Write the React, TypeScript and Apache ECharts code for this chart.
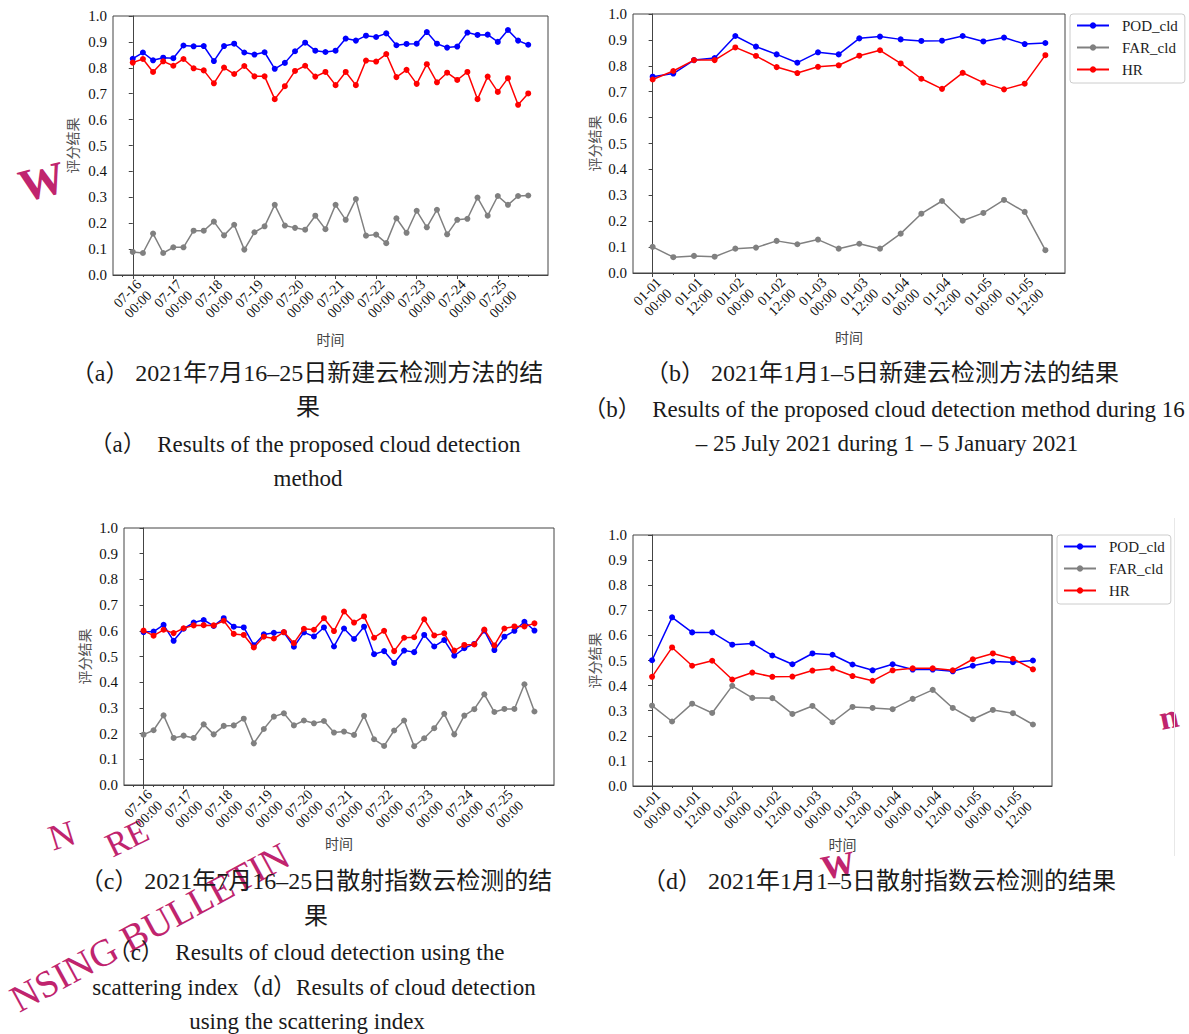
import React, { useEffect, useRef } from "react";
import * as echarts from "echarts";

// ---------------- data ----------------
const julyLabels = [
  "07-16\n00:00", "07-17\n00:00", "07-18\n00:00", "07-19\n00:00", "07-20\n00:00",
  "07-21\n00:00", "07-22\n00:00", "07-23\n00:00", "07-24\n00:00", "07-25\n00:00",
];
const janLabels = [
  "01-01\n00:00", "01-01\n12:00", "01-02\n00:00", "01-02\n12:00", "01-03\n00:00",
  "01-03\n12:00", "01-04\n00:00", "01-04\n12:00", "01-05\n00:00", "01-05\n12:00",
];
const seriesNames = ["POD_cld", "FAR_cld", "HR"];

// (a) proposed method, 16-25 July (6-hourly)
const podA = [0.835, 0.859, 0.829, 0.839, 0.837, 0.886, 0.883, 0.884, 0.826, 0.884, 0.893, 0.859, 0.851, 0.860, 0.796, 0.819, 0.864, 0.897, 0.866, 0.861, 0.866, 0.913, 0.905, 0.924, 0.919, 0.933, 0.887, 0.892, 0.893, 0.938, 0.893, 0.878, 0.882, 0.936, 0.927, 0.928, 0.900, 0.946, 0.905, 0.889];
const farA = [0.089, 0.085, 0.160, 0.085, 0.107, 0.107, 0.171, 0.171, 0.206, 0.153, 0.194, 0.098, 0.165, 0.188, 0.271, 0.191, 0.182, 0.175, 0.229, 0.177, 0.271, 0.213, 0.293, 0.152, 0.156, 0.123, 0.219, 0.163, 0.248, 0.184, 0.252, 0.157, 0.213, 0.217, 0.299, 0.229, 0.305, 0.271, 0.305, 0.307];
const hrA = [0.820, 0.834, 0.784, 0.825, 0.808, 0.834, 0.798, 0.790, 0.740, 0.801, 0.776, 0.807, 0.767, 0.767, 0.679, 0.729, 0.788, 0.808, 0.766, 0.784, 0.733, 0.784, 0.733, 0.828, 0.824, 0.853, 0.764, 0.792, 0.738, 0.814, 0.744, 0.781, 0.753, 0.784, 0.679, 0.766, 0.707, 0.760, 0.657, 0.701];

// (b) proposed method, 1-5 January
const podB = [0.758, 0.770, 0.822, 0.830, 0.915, 0.874, 0.844, 0.812, 0.852, 0.844, 0.906, 0.913, 0.902, 0.896, 0.897, 0.915, 0.894, 0.909, 0.884, 0.888];
const farB = [0.101, 0.061, 0.066, 0.063, 0.094, 0.098, 0.124, 0.111, 0.129, 0.094, 0.113, 0.094, 0.152, 0.229, 0.278, 0.202, 0.232, 0.282, 0.236, 0.088];
const hrB = [0.747, 0.780, 0.822, 0.822, 0.871, 0.838, 0.795, 0.772, 0.796, 0.802, 0.839, 0.860, 0.809, 0.750, 0.711, 0.773, 0.735, 0.709, 0.731, 0.841];

// (c) scattering index, 16-25 July
const podC = [0.595, 0.597, 0.623, 0.561, 0.608, 0.632, 0.642, 0.619, 0.649, 0.616, 0.613, 0.544, 0.586, 0.592, 0.594, 0.538, 0.594, 0.578, 0.613, 0.539, 0.609, 0.568, 0.616, 0.509, 0.521, 0.475, 0.523, 0.517, 0.584, 0.539, 0.564, 0.503, 0.532, 0.549, 0.601, 0.525, 0.577, 0.600, 0.635, 0.601];
const farC = [0.196, 0.213, 0.271, 0.183, 0.192, 0.183, 0.236, 0.197, 0.230, 0.232, 0.258, 0.162, 0.218, 0.266, 0.279, 0.232, 0.251, 0.240, 0.249, 0.204, 0.208, 0.195, 0.269, 0.178, 0.152, 0.212, 0.251, 0.151, 0.182, 0.221, 0.277, 0.197, 0.270, 0.295, 0.353, 0.284, 0.296, 0.296, 0.392, 0.286];
const hrC = [0.601, 0.581, 0.604, 0.591, 0.610, 0.621, 0.622, 0.621, 0.639, 0.588, 0.584, 0.535, 0.577, 0.570, 0.595, 0.552, 0.608, 0.604, 0.649, 0.599, 0.675, 0.632, 0.656, 0.573, 0.600, 0.521, 0.573, 0.575, 0.645, 0.582, 0.590, 0.523, 0.545, 0.547, 0.605, 0.543, 0.609, 0.617, 0.617, 0.629];

// (d) scattering index, 1-5 January
const podD = [0.501, 0.672, 0.612, 0.612, 0.563, 0.568, 0.520, 0.485, 0.528, 0.523, 0.484, 0.461, 0.485, 0.464, 0.464, 0.457, 0.479, 0.496, 0.493, 0.500];
const farD = [0.320, 0.257, 0.328, 0.291, 0.399, 0.351, 0.350, 0.287, 0.319, 0.254, 0.315, 0.311, 0.306, 0.347, 0.383, 0.311, 0.266, 0.303, 0.290, 0.245];
const hrD = [0.435, 0.552, 0.479, 0.499, 0.424, 0.452, 0.435, 0.436, 0.460, 0.468, 0.438, 0.419, 0.461, 0.469, 0.469, 0.461, 0.505, 0.528, 0.507, 0.465];

// ---------------- styling ----------------
const SERIF = "'Liberation Serif', 'Times New Roman', serif";
const CJK = "'Noto Sans CJK SC', sans-serif";
const MIX = "'Liberation Serif', 'Noto Sans CJK SC', serif";
const AXIS = "#444";
const COLORS = ["#0000ff", "#808080", "#ff0000"];
const WM = "#c0246e";

type Panel = {
  rect: { left: number; top: number; width: number; height: number };
  step: number;
  labels: string[];
  values: number[][];
  xGap: number;
  yGap: number;
};

const panels: Panel[] = [
  { rect: { left: 113, top: 16, width: 435, height: 259 }, step: 4, labels: julyLabels, values: [podA, farA, hrA], xGap: 57, yGap: 34 },
  { rect: { left: 633, top: 14, width: 432, height: 259 }, step: 2, labels: janLabels, values: [podB, farB, hrB], xGap: 57, yGap: 32 },
  { rect: { left: 124, top: 528, width: 430, height: 257 }, step: 4, labels: julyLabels, values: [podC, farC, hrC], xGap: 51, yGap: 33 },
  { rect: { left: 633, top: 535, width: 419, height: 251 }, step: 2, labels: janLabels, values: [podD, farD, hrD], xGap: 51, yGap: 32 },
];

function buildOption() {
  const grid: any[] = [];
  const xAxis: any[] = [];
  const yAxis: any[] = [];
  const series: any[] = [];

  panels.forEach((p, i) => {
    const n = p.values[0].length;
    const pad = 0.05 * (n - 1);
    const xMin = -pad;
    const xMax = n - 1 + pad;
    const major = p.labels.map((_, j) => j * p.step);
    // labels split over two axes so that no label is hidden as "overlapping"
    const majorEven = major.filter((_, j) => j % 2 === 0);
    const majorOdd = major.filter((_, j) => j % 2 === 1);
    const minor: number[] = [];
    for (let k = Math.ceil(xMin); k <= Math.floor(xMax); k++) {
      if (k % p.step !== 0) minor.push(k);
    }
    const labelStyle = (vals: number[]) => ({
      customValues: vals,
      formatter: (v: number) => p.labels[Math.round(v / p.step)] ?? "",
      rotate: 45,
      align: "center",
      verticalAlign: "middle",
      margin: 24,
      fontFamily: SERIF,
      fontSize: 14,
      lineHeight: 15,
      color: "#111",
      hideOverlap: false,
      showMinLabel: true,
      showMaxLabel: true,
    });
    const g = { ...p.rect, containLabel: false, outerBoundsMode: "none" };
    grid.push({ ...g, show: true, borderColor: AXIS, borderWidth: 1, backgroundColor: "transparent" });
    grid.push({ ...g, show: false });

    xAxis.push({
      gridIndex: 2 * i,
      type: "value",
      min: xMin,
      max: xMax,
      axisLine: { show: true, lineStyle: { color: AXIS, width: 1 } },
      axisTick: { show: true, length: 4, customValues: major, lineStyle: { color: AXIS } },
      axisLabel: labelStyle(majorEven),
      splitLine: { show: false },
      name: "时间",
      nameLocation: "middle",
      nameGap: p.xGap,
      nameTextStyle: { fontFamily: CJK, fontSize: 14, color: "#444" },
    });
    xAxis.push({
      gridIndex: 2 * i + 1,
      type: "value",
      min: xMin,
      max: xMax,
      axisLine: { show: false },
      axisTick: { show: true, length: 2, customValues: minor, lineStyle: { color: AXIS } },
      axisLabel: labelStyle(majorOdd),
      splitLine: { show: false },
    });

    yAxis.push({
      gridIndex: 2 * i,
      type: "value",
      min: 0,
      max: 1,
      interval: 0.1,
      axisLine: { show: true, lineStyle: { color: AXIS, width: 1 } },
      axisTick: { show: true, length: 4, lineStyle: { color: AXIS } },
      axisLabel: {
        formatter: (v: number) => v.toFixed(1),
        fontFamily: SERIF,
        fontSize: 15,
        color: "#111",
        margin: 6,
        showMinLabel: true,
        showMaxLabel: true,
      },
      splitLine: { show: false },
      name: "评分结果",
      nameLocation: "middle",
      nameRotate: 90,
      nameGap: p.yGap,
      nameTextStyle: { fontFamily: CJK, fontSize: 14, color: "#555" },
    });
    yAxis.push({ gridIndex: 2 * i + 1, type: "value", min: 0, max: 1, show: false });

    p.values.forEach((vals, s) => {
      series.push({
        type: "line",
        name: seriesNames[s],
        xAxisIndex: 2 * i,
        yAxisIndex: 2 * i,
        data: vals.map((v, k) => [k, v]),
        symbol: "circle",
        symbolSize: 6,
        showSymbol: true,
        lineStyle: { color: COLORS[s], width: 1.5 },
        itemStyle: { color: COLORS[s] },
        emphasis: { disabled: true },
        silent: true,
        z: 2 + s,
      });
    });
  });

  const legendBase = {
    orient: "vertical",
    itemWidth: 32,
    itemHeight: 8,
    itemGap: 7,
    borderColor: "#cccccc",
    borderWidth: 1,
    borderRadius: 3,
    backgroundColor: "#ffffff",
    selectedMode: false,
    data: seriesNames,
    textStyle: { fontFamily: SERIF, fontSize: 15, color: "#222", padding: [0, 0, 0, 8] },
  };

  const cap = (text: string, x: number, y: number, size: number) => ({
    type: "text",
    x,
    y,
    style: {
      text,
      fontFamily: MIX,
      fontSize: size,
      fill: "#1a1a1a",
      align: "center",
      verticalAlign: "middle",
    },
    silent: true,
  });

  const wm = (text: string, x: number, y: number, size: number, rot: number, extra: any = {}) => ({
    type: "text",
    x,
    y,
    rotation: rot,
    style: { text, fontFamily: SERIF, fontSize: size, fill: WM, ...extra },
    silent: true,
    z: -1,
  });

  const graphic = [
    // watermark fragments
    wm("W", 14, 165, 46, 0.25, { fontWeight: "bold" }),
    wm("N", 44, 822, 36, 0.3),
    wm("RE", 100, 832, 34, 0.45),
    wm("NSING BULLETIN", 4, 985, 38, 0.5),
    wm("W", 818, 852, 34, 0.2, { fontWeight: "bold" }),
    wm("n", 1156, 702, 34, 0.2, { fontWeight: "bold" }),
    { type: "line", shape: { x1: 1174.5, y1: 518, x2: 1174.5, y2: 856 }, style: { stroke: "#e8e8e8", lineWidth: 1 }, silent: true },
    // captions
    cap("（a） 2021年7月16–25日新建云检测方法的结", 307, 373, 24),
    cap("果", 308, 407, 24),
    cap("（a）  Results of the proposed cloud detection", 305, 444, 23),
    cap("method", 308, 478, 23),
    cap("（b） 2021年1月1–5日新建云检测方法的结果", 882, 373, 24),
    cap("（b）  Results of the proposed cloud detection method during 16", 884, 409, 23),
    cap("– 25 July 2021 during 1 – 5 January 2021", 887, 443, 23),
    cap("（c） 2021年7月16–25日散射指数云检测的结", 316, 881, 24),
    cap("果", 316, 916, 24),
    cap("（c）  Results of cloud detection using the", 306, 952, 23),
    cap("scattering index（d）Results of cloud detection", 314, 987, 23),
    cap("using the scattering index", 307, 1021, 23),
    cap("（d） 2021年1月1–5日散射指数云检测的结果", 879, 881, 24),
  ];

  return {
    animation: false,
    backgroundColor: "#ffffff",
    grid,
    xAxis,
    yAxis,
    series,
    legend: [
      { ...legendBase, left: 1070, top: 14, padding: [4, 7, 6, 6] },
      { ...legendBase, left: 1057, top: 535, padding: [4, 6, 6, 6] },
    ],
    graphic,
  };
}

export default function App() {
  const ref = useRef<HTMLDivElement>(null);
  useEffect(() => {
    if (!ref.current) return;
    const chart = echarts.init(ref.current, undefined, { renderer: "svg" });
    chart.setOption(buildOption() as any);
    return () => chart.dispose();
  }, []);
  return (
    <div
      ref={ref}
      style={{ position: "absolute", left: 0, top: 0, width: 1189, height: 1034, background: "#fff" }}
    />
  );
}
